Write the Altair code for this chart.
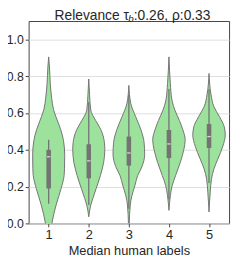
import altair as alt
import pandas as pd

# Violin outlines: value -> half width (in category units)
v1_y = [0.905, 0.85, 0.76, 0.68, 0.62, 0.58, 0.51, 0.45, 0.37, 0.30, 0.26, 0.19, 0.10, 0.0, -0.05]
v1_w = [0.0, 0.02, 0.04, 0.075, 0.12, 0.18, 0.30, 0.37, 0.40, 0.395, 0.385, 0.31, 0.185, 0.08, 0.05]
v2_y = [0.785, 0.70, 0.615, 0.56, 0.51, 0.44, 0.40, 0.33, 0.26, 0.19, 0.135, 0.10, 0.036]
v2_w = [0.0, 0.02, 0.05, 0.17, 0.30, 0.39, 0.40, 0.37, 0.29, 0.185, 0.10, 0.05, 0.0]
v3_y = [0.75, 0.65, 0.58, 0.51, 0.44, 0.375, 0.31, 0.26, 0.205, 0.15, 0.10, 0.0]
v3_w = [0.0, 0.05, 0.17, 0.30, 0.38, 0.395, 0.33, 0.22, 0.15, 0.075, 0.035, 0.01]
v4_y = [0.905, 0.76, 0.67, 0.615, 0.56, 0.51, 0.455, 0.40, 0.33, 0.26, 0.205, 0.15, 0.071]
v4_w = [0.0, 0.035, 0.075, 0.15, 0.26, 0.345, 0.405, 0.37, 0.28, 0.165, 0.08, 0.035, 0.0]
v5_y = [0.815, 0.70, 0.635, 0.58, 0.525, 0.48, 0.42, 0.35, 0.295, 0.24, 0.17, 0.062]
v5_w = [0.0, 0.05, 0.12, 0.26, 0.38, 0.405, 0.345, 0.22, 0.12, 0.06, 0.03, 0.0]

categories = [1, 2, 3, 4, 5]
whisker_lo = [0.107, 0.10, 0.08, 0.13, 0.22]
whisker_hi = [0.455, 0.66, 0.70, 0.73, 0.73]
q1 = [0.19, 0.245, 0.314, 0.355, 0.41]
median = [0.362, 0.34, 0.383, 0.432, 0.472]
q3 = [0.40, 0.43, 0.472, 0.508, 0.54]

title_main = "Relevance τ"
title_sub = "b"
title_rest = ":0.26, ρ:0.33"
x_title = "Median human labels"

rows = []
for c, ys, ws in zip(categories, [v1_y, v2_y, v3_y, v4_y, v5_y], [v1_w, v2_w, v3_w, v4_w, v5_w]):
    for y, w in zip(ys, ws):
        rows.append({"cat": c, "value": y, "lo": c - w, "hi": c + w})
vdf = pd.DataFrame(rows)
bdf = pd.DataFrame({"cat": categories, "wlo": whisker_lo, "whi": whisker_hi,
                    "q1": q1, "med": median, "q3": q3})

FILL = "#9ce29c"
GRAY = "#737373"
FONT = "Liberation Sans"

xscale = alt.Scale(domain=[0.5, 5.5], nice=False, zero=False)
yscale = alt.Scale(domain=[0, 1.1], nice=False, zero=False)

violins = alt.Chart(vdf).mark_area(
    orient="horizontal", interpolate="monotone", fill=FILL, stroke=GRAY,
    strokeWidth=1, clip=True
).encode(
    y=alt.Y("value:Q", scale=yscale,
            axis=alt.Axis(values=[0, 0.2, 0.4, 0.6, 0.8, 1.0], format=".1f", title=None,
                          grid=True, gridColor="#dedede", gridWidth=1, domain=False,
                          tickSize=3.5, tickColor="#444", labelFontSize=12.5,
                          labelColor="#262626", labelFont=FONT, labelPadding=2)),
    x=alt.X("lo:Q", scale=xscale,
            axis=alt.Axis(values=categories, format="d", title=x_title, grid=False,
                          domain=False, tickSize=3.5, tickColor="#444", labelFontSize=13,
                          labelColor="#262626", labelFont=FONT, labelPadding=2,
                          titleFont=FONT, titleFontSize=13, titleFontWeight="normal",
                          titleColor="#262626", titlePadding=3)),
    x2="hi:Q",
    detail="cat:N",
)

whisk = alt.Chart(bdf).mark_rule(color=GRAY, strokeWidth=1.3).encode(
    x=alt.X("cat:Q", scale=xscale), y=alt.Y("wlo:Q", scale=yscale), y2="whi:Q")
box = alt.Chart(bdf).mark_rule(color=GRAY, strokeWidth=4.6, strokeCap="butt").encode(
    x=alt.X("cat:Q", scale=xscale), y=alt.Y("q1:Q", scale=yscale), y2="q3:Q")
med = alt.Chart(bdf).mark_tick(color="white", orient="horizontal", size=3.5, thickness=1.3).encode(
    x=alt.X("cat:Q", scale=xscale), y=alt.Y("med:Q", scale=yscale))

tdf = pd.DataFrame({"t": [0]})
t1 = alt.Chart(tdf).mark_text(text=title_main, align="right", baseline="alphabetic",
                              font=FONT, fontSize=14, color="#262626").encode(
    x=alt.value(102), y=alt.value(-1))
t2 = alt.Chart(tdf).mark_text(text=title_sub, align="left", baseline="alphabetic",
                              font=FONT, fontSize=10, fontStyle="italic", color="#262626").encode(
    x=alt.value(101.5), y=alt.value(1.5))
t3 = alt.Chart(tdf).mark_text(text=title_rest, align="left", baseline="alphabetic",
                              font=FONT, fontSize=14, color="#262626").encode(
    x=alt.value(107), y=alt.value(-1))

chart = alt.layer(violins, whisk, box, med, t1, t2, t3).properties(
    width=204, height=206,
    autosize=alt.AutoSizeParams(type="none"),
    padding={"left": 21, "top": 11, "right": 4, "bottom": 36},
).configure_view(stroke="#444", strokeWidth=1)

chart.save("out.html", embed_options={"renderer": "svg", "actions": False})
